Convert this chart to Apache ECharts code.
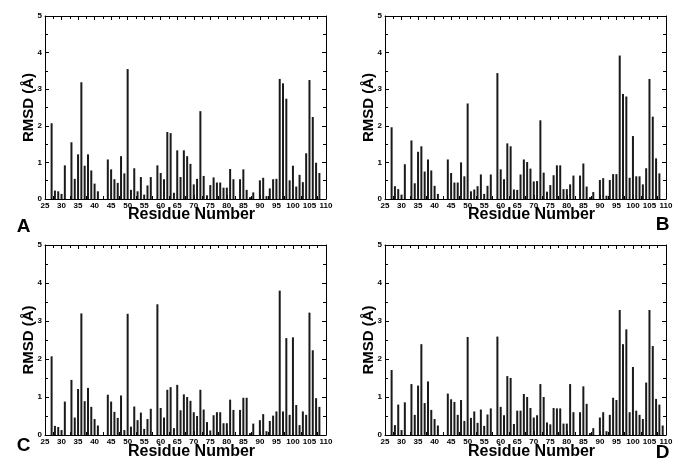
<!DOCTYPE html>
<html>
<head>
<meta charset="utf-8">
<script src="https://cdn.jsdelivr.net/npm/echarts@6/dist/echarts.min.js"></script>
<style>
html,body{margin:0;padding:0;background:#fff;}
#chart{width:687px;height:476px;}
</style>
</head>
<body>
<div id="chart"></div>
<script>
const residues = [27,28,29,30,31,33,34,35,36,37,38,39,40,41,44,45,46,47,48,49,50,51,52,53,54,55,56,57,59,60,61,62,63,64,65,66,67,68,69,70,71,72,73,74,75,76,77,78,79,80,81,82,84,85,86,87,88,90,91,92,93,94,95,96,97,98,99,100,101,102,103,104,105,106,107,108,109];

const rmsdA = [2.07,0.23,0.21,0.14,0.92,
  1.55,0.55,1.22,3.19,0.91,1.22,0.78,0.42,0.21,
  1.08,0.81,0.54,0.44,1.17,0.70,3.55,0.25,0.84,0.21,0.60,0.12,0.37,0.60,
  0.92,0.71,0.54,1.83,1.80,0.17,1.33,0.60,1.33,1.17,0.96,0.40,0.55,2.40,0.63,0.10,0.38,0.59,0.45,0.45,0.31,0.31,0.82,0.54,
  0.54,0.81,0.25,0.05,0.18,
  0.51,0.58,0.08,0.29,0.54,0.55,3.28,3.16,2.74,0.51,0.91,0.34,0.66,0.46,1.25,3.25,2.24,0.99,0.71,null];

const rmsdB = [1.96,0.35,0.27,0.12,0.95,
  1.60,0.43,1.29,1.44,0.75,1.08,0.78,0.36,0.14,
  1.08,0.71,0.45,0.45,1.00,0.62,2.61,0.21,0.26,0.35,0.67,0.14,0.36,0.67,
  3.44,0.81,0.54,1.52,1.44,0.26,0.25,0.67,1.08,1.01,0.83,0.48,0.49,2.15,0.72,0.20,0.38,0.65,0.92,0.92,0.27,0.27,0.40,0.64,
  0.64,0.97,0.34,0.05,0.19,
  0.52,0.57,0.09,0.52,0.68,0.68,3.92,2.87,2.80,0.58,1.72,0.62,0.62,0.40,0.84,3.28,2.25,1.11,0.70,null];

const rmsdC = [2.07,0.24,0.21,0.13,0.88,
  1.45,0.46,1.21,3.20,0.89,1.24,0.74,0.42,0.25,
  1.06,0.88,0.61,0.45,1.04,0.13,3.19,0.22,0.75,0.39,0.59,0.16,0.42,0.69,
  3.44,0.71,0.46,1.19,1.26,0.18,1.32,0.65,1.07,1.00,0.90,0.60,0.50,1.19,0.67,0.34,0.12,0.52,0.60,0.60,0.31,0.31,0.93,0.66,
  0.66,0.98,0.98,0.05,0.30,
  0.39,0.55,0.10,0.37,0.51,0.62,3.80,0.62,2.55,0.53,2.57,0.79,0.26,0.62,0.53,3.22,2.23,0.97,0.74,null];

const rmsdD = [1.71,0.26,0.80,0.13,0.86,
  1.34,0.53,1.30,2.39,0.84,1.41,0.66,0.42,0.25,
  1.09,0.94,0.87,0.53,0.92,0.37,2.58,0.45,0.62,0.32,0.67,0.24,0.54,0.70,
  2.59,0.74,0.52,1.55,1.50,0.29,0.64,0.64,1.08,1.00,0.71,0.46,0.52,1.34,1.00,0.33,0.28,0.71,0.70,0.70,0.30,0.30,1.34,0.60,
  0.60,1.28,0.82,0.05,0.18,
  0.46,0.60,0.10,0.53,0.98,0.92,3.29,2.39,2.78,0.60,1.79,0.64,0.53,0.42,1.38,3.29,2.34,0.95,0.80,0.25];

const xTickLabels = ['25','30','35','40','45','50','55','60','65','70','75','80','85','90','95','100','105','110'];
const yTickLabels = ['0','1','2','3','4','5'];
const panelLetters = ['A','B','C','D'];
const panels = [rmsdA, rmsdB, rmsdC, rmsdD];
const xTitle = 'Residue Number';
const yTitle = 'RMSD (Å)';

const FONT = 'Liberation Sans, Arial, sans-serif';
const grids = [
  {left:45, top:16, width:281, height:183},
  {left:385, top:16, width:281, height:183},
  {left:45, top:245, width:281, height:190},
  {left:385, top:245, width:281, height:190}
];

const chart = echarts.init(document.getElementById('chart'), null, {renderer:'canvas'});

const lineStyle = {color:'#000', width:1};
const xAxes = [], yAxes = [], series = [], graphics = [];
grids.forEach((g, i) => {
  const base = {
    type:'value', gridIndex:i, min:25, max:110, interval:5,
    axisLine:{show:true, onZero:false, lineStyle},
    axisTick:{show:true, inside:true, length:4, lineStyle},
    minorTick:{show:true, splitNumber:2, length:3, lineStyle},
    splitLine:{show:false}, minorSplitLine:{show:false}
  };
  xAxes.push(Object.assign({}, base, {
    position:'bottom',
    axisLabel:{show:true, margin:3, fontSize:8, fontWeight:'bold', color:'#000', fontFamily:FONT,
      formatter:(v)=> xTickLabels.includes(String(v)) ? String(v) : ''}
  }));
  xAxes.push(Object.assign({}, base, {position:'top', axisLabel:{show:false}}));
  const ybase = {
    type:'value', gridIndex:i, min:0, max:5, interval:1,
    axisLine:{show:true, onZero:false, lineStyle},
    axisTick:{show:true, inside:true, length:4, lineStyle},
    minorTick:{show:true, splitNumber:2, length:3, lineStyle},
    splitLine:{show:false}, minorSplitLine:{show:false}
  };
  yAxes.push(Object.assign({}, ybase, {
    position:'left',
    axisLabel:{show:true, margin:3, fontSize:8, fontWeight:'bold', color:'#000', fontFamily:FONT,
      formatter:(v)=> yTickLabels.includes(String(v)) ? String(v) : ''}
  }));
  yAxes.push(Object.assign({}, ybase, {position:'right', axisLabel:{show:false}}));

  series.push({
    type:'bar', xAxisIndex:i*2, yAxisIndex:i*2, barWidth:2,
    itemStyle:{color:'#1a1a1a'},
    data: residues.map((r, k) => [r, panels[i][k]]),
    silent:true, animation:false
  });

  const cx = g.left + g.width/2 + 6;
  const cy = g.top + g.height/2;
  const titleY = g.top + g.height + (i < 2 ? 15.5 : 17);
  graphics.push({type:'text', x:cx, y:titleY, style:{text:xTitle, font:'bold 16px '+FONT, fill:'#000', textAlign:'center', textVerticalAlign:'middle'}});
  graphics.push({type:'text', x:g.left - 16.5, y:cy, rotation:Math.PI/2, style:{text:yTitle, font:'bold 15px '+FONT, fill:'#000', textAlign:'center', textVerticalAlign:'middle'}});
});

const letterPos = [[23.5,226.5],[662.5,225],[23.5,446],[662.5,453]];
panelLetters.forEach((L, i) => {
  graphics.push({type:'text', x:letterPos[i][0], y:letterPos[i][1], style:{text:L, font:'bold 19px '+FONT, fill:'#000', textAlign:'center', textVerticalAlign:'middle'}});
});

chart.setOption({
  backgroundColor:'#fff',
  animation:false,
  grid: grids,
  xAxis: xAxes,
  yAxis: yAxes,
  series: series,
  graphic: graphics
});
</script>
</body>
</html>
